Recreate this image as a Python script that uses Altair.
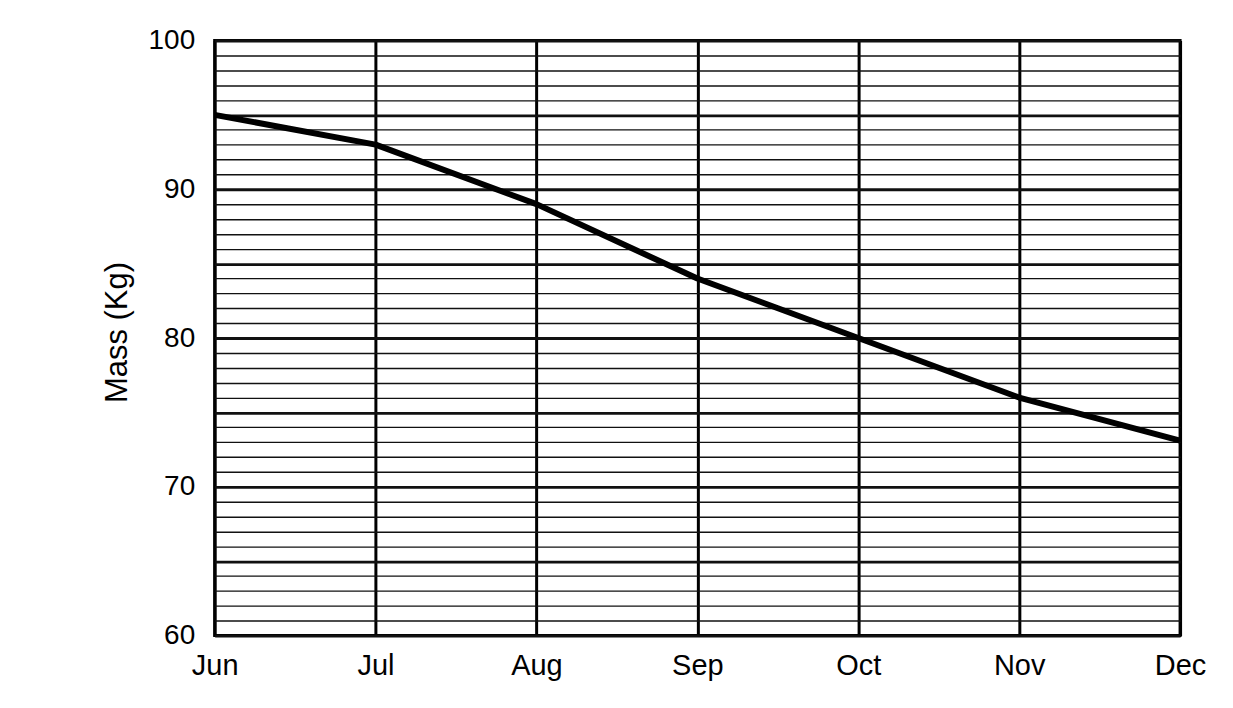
import altair as alt
import pandas as pd

months = ["Jun", "Jul", "Aug", "Sep", "Oct", "Nov", "Dec"]
mass = [95.0, 93.0, 89.0, 84.0, 80.0, 76.0, 73.1]

y_grid_values = list(range(60, 101))

df = pd.DataFrame({"month": months, "mass": mass})

FONT = "Liberation Sans"

chart = (
    alt.Chart(df)
    .mark_line(color="black", strokeWidth=6, interpolate="linear", strokeJoin="round")
    .encode(
        x=alt.X(
            "month:O",
            sort=months,
            scale=alt.Scale(type="point", padding=0),
            axis=alt.Axis(
                title=None,
                labelAngle=0,
                labelFont=FONT,
                labelFontSize=29,
                labelColor="black",
                labelPadding=16,
                labelBaseline="top",
                ticks=False,
                domain=False,
                grid=True,
                gridColor="black",
                gridWidth=3,
                gridOpacity=1,
            ),
        ),
        y=alt.Y(
            "mass:Q",
            scale=alt.Scale(domain=[60, 100], nice=False, zero=False),
            axis=alt.Axis(
                title="Mass (Kg)",
                titleFont=FONT,
                titleFontSize=31,
                titleFontWeight="normal",
                titleColor="black",
                titleX=-97,
                titleY=292,
                titleBaseline="middle",
                titleAngle=270,
                values=y_grid_values,
                labelExpr="datum.value % 10 === 0 ? datum.label : ''",
                labelOverlap=False,
                labelFont=FONT,
                labelFontSize=28,
                labelColor="black",
                labelPadding=20,
                ticks=False,
                domain=False,
                grid=True,
                gridColor="#111111",
                gridOpacity=1,
                gridWidth={"condition": {"test": "datum.value % 5 === 0", "value": 2.8}, "value": 1.4},
            ),
        ),
    )
    .properties(
        width=967,
        height=596,
        autosize=alt.AutoSizeParams(type="none"),
        padding={"left": 207, "top": 32, "right": 45, "bottom": 56},
        background="white",
    )
    .configure_view(stroke="black", strokeWidth=3)
)

chart.save("out.html", embed_options={"renderer": "svg", "actions": False})
